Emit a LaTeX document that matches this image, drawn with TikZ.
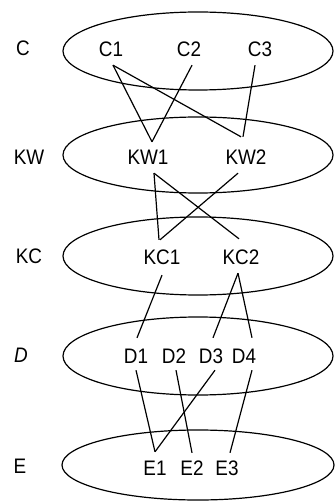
\documentclass[tikz,border=0pt]{standalone}
\usepackage{fontspec}
\setmainfont[FakeStretch=0.9]{Liberation Sans}
\usetikzlibrary{shapes.geometric}
\begin{document}
\begin{tikzpicture}[x=1pt,y=-1pt,
  ring/.style={draw,ellipse,line width=1.2pt,minimum width=270pt,minimum height=78pt,inner sep=0pt},
  lbl/.style={inner sep=0pt,text height=15pt,text depth=0pt,font=\fontsize{21}{21}\selectfont},
  edge/.style={line width=1.2pt}]
\useasboundingbox (0,0) rectangle (334,502);
% layer ellipses
\node[ring] (ringC) at (198,51) {};
\node[ring,minimum height=76pt] (ringKW) at (198,155) {};
\node[ring] (ringKC) at (198,256) {};
\node[ring] (ringD) at (198,356) {};
\node[ring,minimum height=70pt,minimum width=272pt] (ringE) at (198,465) {};
% row labels
\node[lbl] (LC) at (23,48) {C};
\node[lbl] (LKW) at (29,157) {KW};
\node[lbl] (LKC) at (29,256) {KC};
\node[lbl,font=\fontsize{21}{21}\selectfont\itshape] (LD) at (21,355) {D};
\node[lbl] (LE) at (20,466) {E};
% items
\node[lbl] (C1) at (111,49) {C1};
\node[lbl] (C2) at (189,49) {C2};
\node[lbl] (C3) at (260,49) {C3};
\node[lbl] (KW1) at (148,157) {KW1};
\node[lbl] (KW2) at (246,157) {KW2};
\node[lbl] (KC1) at (162,257) {KC1};
\node[lbl] (KC2) at (241,257) {KC2};
\node[lbl] (D1) at (136,356) {D1};
\node[lbl] (D2) at (174,356) {D2};
\node[lbl] (D3) at (211,356) {D3};
\node[lbl] (D4) at (244,356) {D4};
\node[lbl] (E1) at (155,468) {E1};
\node[lbl] (E2) at (192,468) {E2};
\node[lbl] (E3) at (227,468) {E3};
% connectors
\draw[edge] ([shift={(2,8.5)}]C1.south) -- ([shift={(4,-7.5)}]KW1.north);
\draw[edge] ([shift={(2,8.5)}]C1.south) -- ([shift={(-5,-12.5)}]KW2.north);
\draw[edge] ([shift={(3,8.5)}]C2.south) -- ([shift={(4,-7.5)}]KW1.north);
\draw[edge] ([shift={(-5,8.5)}]C3.south) -- ([shift={(-3,-12.5)}]KW2.north);
\draw[edge] ([shift={(6,8.5)}]KW1.south) -- ([shift={(-3,-9.5)}]KC1.north);
\draw[edge] ([shift={(6,8.5)}]KW1.south) -- ([shift={(-2,-10.5)}]KC2.north);
\draw[edge] ([shift={(-8,8.5)}]KW2.south) -- ([shift={(-2,-9.5)}]KC1.north);
\draw[edge] ([shift={(0,10.5)}]KC1.south) -- ([shift={(1,-10.5)}]D1.north);
\draw[edge] ([shift={(-3,8.5)}]KC2.south) -- ([shift={(2,-10.5)}]D3.north);
\draw[edge] ([shift={(-3,8.5)}]KC2.south) -- ([shift={(8,-10.5)}]D4.north);
\draw[edge] ([shift={(0,6.5)}]D1.south) -- ([shift={(0,-8.5)}]E1.north);
\draw[edge] ([shift={(2,6.5)}]D2.south) -- ([shift={(0,-7.5)}]E2.north);
\draw[edge] ([shift={(4,6.5)}]D3.south) -- ([shift={(0,-8.5)}]E1.north);
\draw[edge] ([shift={(8,6.5)}]D4.south) -- ([shift={(3,-7.5)}]E3.north);
\end{tikzpicture}
\end{document}
